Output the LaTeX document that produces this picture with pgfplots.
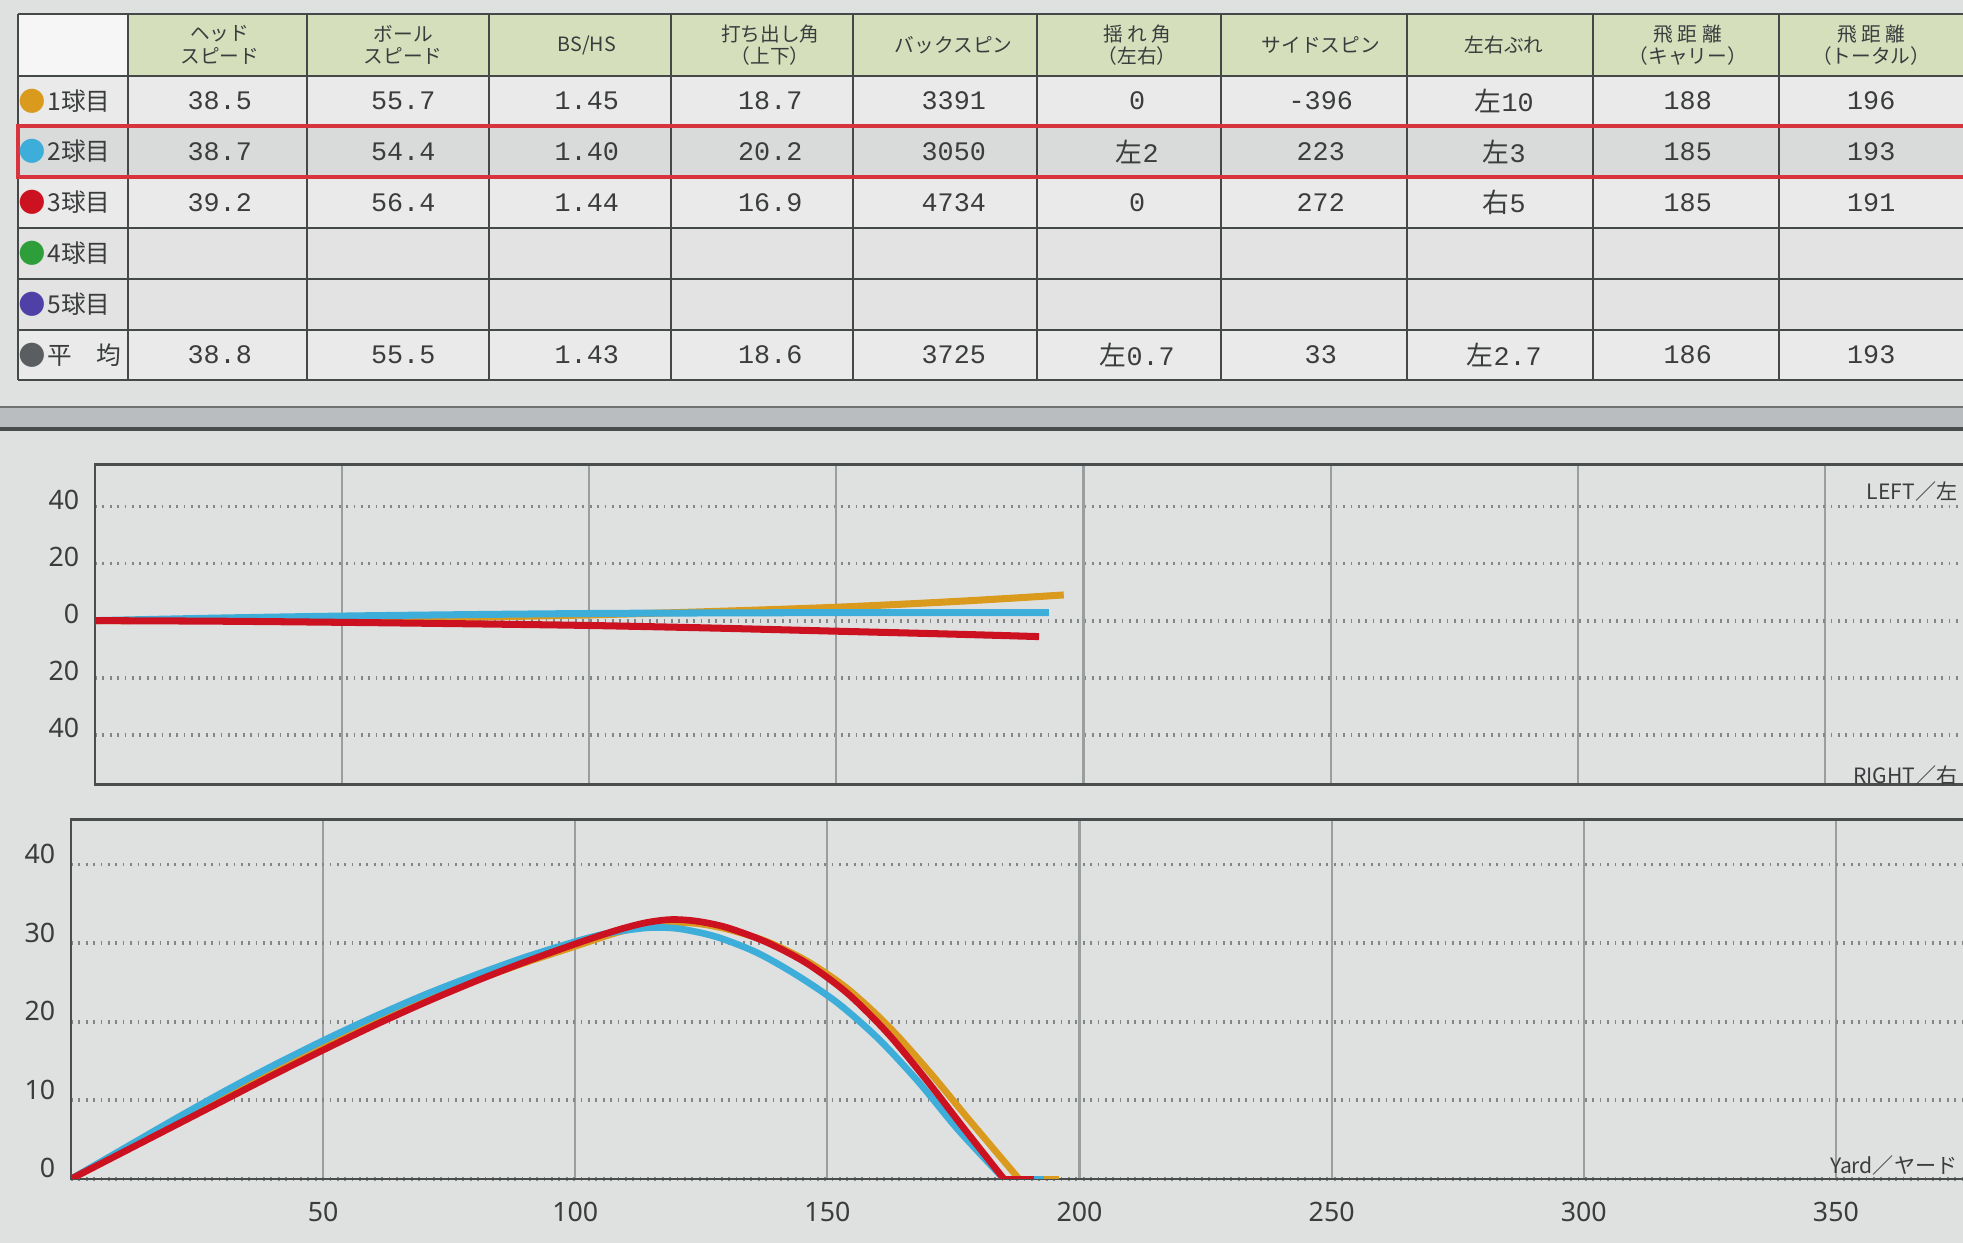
\documentclass[border=0pt]{standalone}
\usepackage{pgfplots}
\pgfplotsset{compat=1.18}
\usepackage{fontspec}
\setmainfont{Noto Sans}
\newfontfamily\jp{Noto Sans CJK JP}
\newfontfamily\num{Liberation Mono}
\newfontfamily\sym{DejaVu Sans}
\definecolor{bg}{HTML}{DFE1E1}
\definecolor{cellbg}{HTML}{E9EAE9}
\definecolor{hdrgreen}{HTML}{D6DFBC}
\definecolor{rowtwo}{HTML}{D9DBDA}
\definecolor{rowff}{HTML}{E2E3E2}
\definecolor{tline}{HTML}{454848}
\definecolor{redline}{HTML}{D8343E}
\definecolor{band}{HTML}{B9BDBF}
\definecolor{tc}{HTML}{3A3C3D}
\definecolor{gridc}{HTML}{9A9E9F}
\definecolor{axisc}{HTML}{4A4D4E}
\definecolor{orangeb}{HTML}{D99A1E}
\definecolor{blueb}{HTML}{3DADDA}
\definecolor{redb}{HTML}{CC1220}
\definecolor{greenb}{HTML}{2E9E3A}
\definecolor{purpleb}{HTML}{4F40A8}
\definecolor{grayb}{HTML}{5A5E60}
\begin{document}
\begin{tikzpicture}[x=0.01cm,y=0.01cm]
\useasboundingbox (0,0) rectangle (1963,1243);
\clip (0,0) rectangle (1963,1243);
\fill[bg] (0,0) rectangle (1963,1243);
% ---------- table ----------
\fill[cellbg] (18,863) rectangle (1963,1167);
\fill[hdrgreen] (128,1167) rectangle (1963,1229);
\fill[white!55!cellbg] (18,1167) rectangle (128,1229);
\fill[rowtwo] (18,1066) rectangle (1963,1117);
\fill[rowff] (18,964) rectangle (1963,1015);
\fill[rowff] (18,913) rectangle (1963,964);
\foreach \yy in {1229,1167,1117,1066,1015,964,913,863}
  \draw[tline, line width=0.7pt] (18,\yy) -- (1963,\yy);
\foreach \xx in {18,128,307,489,671,853,1037,1221,1407,1593,1779}
  \draw[tline, line width=0.6pt] (\xx,863) -- (\xx,1229);
\draw[redline, line width=1.1pt] (1975,1117) -- (18,1117) -- (18,1066) -- (1975,1066);
% header
\foreach \t [count=\i] in {ヘッド\\スピード, ボール\\スピード, BS/HS, 打ち出し角\\（上下）, バックスピン, 揺 れ 角\\（左右）, サイドスピン, 左右ぶれ, 飛 距 離\\（キャリー）, 飛 距 離\\（トータル）}
  \node[align=center, text=tc, font=\jp\fontsize{5.6}{6.4}\selectfont, inner sep=0pt] at ({128+(\i-0.5)*183.5},1198) {\t};
% row labels
\foreach \c/\lab/\yy in {orangeb/1球目/1142, blueb/2球目/1091.5, redb/3球目/1040.5, greenb/4球目/989.5, purpleb/5球目/938.5, grayb/平　均/888}{
  \node[text=\c, font=\sym\fontsize{9}{9}\selectfont, inner sep=0pt] at (32,\yy) {●};
  \node[anchor=west, text=tc, font=\jp\fontsize{7}{8}\selectfont, inner sep=0pt] at (47,\yy) {\lab};
}
% values
\foreach \v [count=\i] in {38.5,55.7,1.45,18.7,3391,0,-396,{{\jp 左}10},188,196}
  \node[text=tc, font=\num\fontsize{7.6}{8}\selectfont, inner sep=0pt] at ({128+(\i-0.5)*183.5},1142) {\v};
\foreach \v [count=\i] in {38.7,54.4,1.40,20.2,3050,{{\jp 左}2},223,{{\jp 左}3},185,193}
  \node[text=tc, font=\num\fontsize{7.6}{8}\selectfont, inner sep=0pt] at ({128+(\i-0.5)*183.5},1091.5) {\v};
\foreach \v [count=\i] in {39.2,56.4,1.44,16.9,4734,0,272,{{\jp 右}5},185,191}
  \node[text=tc, font=\num\fontsize{7.6}{8}\selectfont, inner sep=0pt] at ({128+(\i-0.5)*183.5},1040.5) {\v};
\foreach \v [count=\i] in {38.8,55.5,1.43,18.6,3725,{{\jp 左}0.7},33,{{\jp 左}2.7},186,193}
  \node[text=tc, font=\num\fontsize{7.6}{8}\selectfont, inner sep=0pt] at ({128+(\i-0.5)*183.5},888) {\v};
% band
\fill[band] (0,814) rectangle (1963,836);
\draw[axisc!80, line width=0.7pt] (0,836) -- (1963,836);
\draw[axisc, line width=0.9pt] (0,814) -- (1963,814);
% ---------- lateral chart ----------
\begin{axis}[at={(0.95cm,4.58cm)}, anchor=south west, scale only axis,
  width=18.77cm, height=3.2cm,
  xmin=0, xmax=380, ymin=-57.5, ymax=54.7,
  axis line style={draw=axisc, line width=0.8pt},
  major tick length=0pt,
  xtick={50,100,...,350}, xticklabels={},
  ytick={-40,-20,20,40}, yticklabels={40,20,20,40},
  extra y ticks={0}, extra y tick labels={0},
  extra y tick style={major grid style={solid, draw=gridc!80!black, line width=1.3pt}},
  grid=major,
  x grid style={draw=gridc, line width=0.6pt},
  y grid style={draw=gridc!85!black, line width=1.1pt, dash pattern=on 0.5pt off 1.6pt},
  /pgf/number format/assume math mode=true,
  yticklabel style={font=\fontsize{7.6}{8}\selectfont, text=tc, xshift=-1pt, yshift=2pt},
  clip=true]
\addplot[orangeb, line width=2pt, smooth] coordinates {(0,0) (25,0.2) (50,0.6) (75,1.2) (100,2.0) (125,3.2) (150,4.7) (175,6.8) (196,9.0)};
\addplot[blueb, line width=2pt, smooth] coordinates {(0,0) (25,0.9) (50,1.6) (75,2.1) (100,2.5) (125,2.7) (150,2.8) (175,2.8) (193,2.8)};
\addplot[redb, line width=2pt, smooth] coordinates {(0,0) (25,-0.2) (50,-0.6) (75,-1.1) (100,-1.7) (125,-2.6) (150,-3.7) (175,-4.8) (191,-5.6)};
\end{axis}
\node[anchor=east, text=tc, font=\jp\fontsize{6}{7}\selectfont, inner sep=0pt] at (1958,751) {LEFT／左};
\node[anchor=east, text=tc, font=\jp\fontsize{6}{7}\selectfont, inner sep=0pt] at (1958,468) {RIGHT／右};
% ---------- height chart ----------
\begin{axis}[at={(0.71cm,0.64cm)}, anchor=south west, scale only axis,
  width=19.15cm, height=3.59cm,
  xmin=0, xmax=380, ymin=0, ymax=45.7,
  axis line style={draw=axisc, line width=0.8pt},
  major tick length=0pt,
  xtick={50,100,...,350},
  ytick={0,10,20,30,40},
  grid=major,
  x grid style={draw=gridc, line width=0.6pt},
  y grid style={draw=gridc!85!black, line width=1.1pt, dash pattern=on 0.5pt off 1.6pt},
  /pgf/number format/assume math mode=true,
  yticklabel style={font=\fontsize{7.6}{8}\selectfont, text=tc, xshift=-1pt, yshift=3pt},
  xticklabel style={font=\fontsize{7.6}{8}\selectfont, text=tc, yshift=-3pt},
  clip=true]
\addplot[orangeb, line width=1.9pt, smooth] coordinates {(0,0) (10,3.5) (20,7.0) (30,10.4) (40,13.7) (50,16.9) (60,19.9) (70,22.7) (80,25.2) (90,27.5) (100,29.6) (108,31.3) (114,32.2) (119,32.6) (124,32.5) (130,31.8) (138,30.2) (146,27.7) (154,24.2) (162,19.5) (170,13.8) (178,7.6) (188,0)};
\addplot[orangeb, line width=1.9pt] coordinates {(188,0) (196,0)};
\addplot[blueb, line width=1.9pt, smooth] coordinates {(0,0) (10,3.7) (20,7.4) (30,11.0) (40,14.4) (50,17.6) (60,20.6) (70,23.4) (80,25.9) (90,28.2) (100,30.2) (106,31.2) (112,31.8) (116,32.0) (121,31.8) (128,30.8) (136,28.8) (144,25.9) (152,22.4) (160,17.9) (168,12.4) (176,6.2) (185,0)};
\addplot[blueb, line width=1.9pt] coordinates {(185,0) (193,0)};
\addplot[redb, line width=1.9pt, smooth] coordinates {(0,0) (10,3.3) (20,6.6) (30,9.9) (40,13.2) (50,16.4) (60,19.5) (70,22.4) (80,25.1) (90,27.6) (100,29.9) (108,31.6) (114,32.6) (119,33.0) (124,32.8) (130,32.0) (138,30.1) (146,27.4) (154,23.6) (162,18.5) (170,12.3) (177,6.5) (185,0)};
\addplot[redb, line width=1.9pt] coordinates {(185,0) (191,0)};
\end{axis}
\node[anchor=east, text=tc, font=\jp\fontsize{6}{7}\selectfont, inner sep=0pt] at (1958,78) {Yard／ヤード};
\end{tikzpicture}
\end{document}
